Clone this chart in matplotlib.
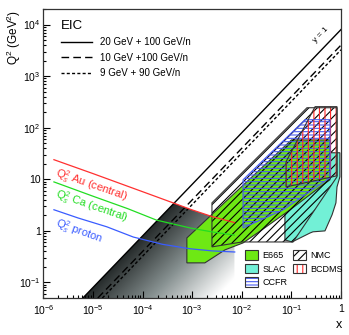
import numpy as np
import matplotlib
matplotlib.use('Agg')
import matplotlib.pyplot as plt
from matplotlib.patches import Polygon, Rectangle
from matplotlib.lines import Line2D
from matplotlib.colors import LinearSegmentedColormap
import matplotlib.ticker as mticker

plt.rcParams['font.family'] = ['Liberation Sans', 'DejaVu Sans']
plt.rcParams['mathtext.fontset'] = 'custom'
plt.rcParams['mathtext.rm'] = 'Liberation Sans'
plt.rcParams['mathtext.it'] = 'Liberation Sans:italic'
plt.rcParams['mathtext.bf'] = 'Liberation Sans:bold'
plt.rcParams['hatch.linewidth'] = 0.8

# ---------------- data ----------------
beam_labels = ['20 GeV + 100 GeV/n', '10 GeV +100 GeV/n', '9 GeV + 90 GeV/n']
beam_s = [8000.0, 4000.0, 3240.0]          # s (GeV^2); y = 1 line: Q2 = s * x
beam_styles = ['-', (0, (5.5, 3.0)), (0, (2.2, 1.6))]

qs_au_x = [1.63e-6, 1e-5, 1e-4, 4.2e-4, 9.1e-4, 2.5e-3, 7.1e-3]
qs_au_q2 = [24.0, 12.9, 5.75, 3.47, 2.63, 1.9, 1.45]
qs_ca_x = [1.63e-6, 1e-5, 5e-5, 1.9e-4, 9.1e-4, 2.6e-3, 7.1e-3]
qs_ca_q2 = [8.9, 4.7, 2.7, 1.62, 1.14, 0.95, 0.83]
qs_p_x = [1.63e-6, 5e-6, 1.9e-5, 6.5e-5, 2.5e-4, 9.1e-4, 2.5e-3, 7.2e-3]
qs_p_q2 = [2.57, 1.78, 1.2, 0.76, 0.55, 0.45, 0.41, 0.39]

e665_x = [7.8e-4, 7.8e-4, 1.8e-3, 4.6e-3, 0.0106, 0.0255, 0.094, 0.43, 0.6, 0.6, 0.1]
e665_q2 = [0.73, 0.24, 0.24, 0.43, 0.585, 1.05, 2.56, 7.8, 9.8, 58, 58]

nmc_x = [2.5e-3, 0.206, 0.83, 0.83, 0.108, 0.0101, 2.5e-3]
nmc_q2 = [3.5, 244, 244, 11.2, 0.61, 0.61, 0.49]

ccfr_x = [0.0106, 0.0106, 0.068, 0.6, 0.6, 0.188]
ccfr_q2 = [9.8, 1.14, 2.56, 10.7, 143, 143]

bcdms_x = [0.078, 0.078, 0.3, 0.83, 0.83]
bcdms_q2 = [7.1, 21.9, 256, 256, 11.7]

slac_x = [0.074, 0.074, 0.103, 0.237, 0.272, 0.475, 0.66, 0.79, 0.83, 0.95, 0.95, 0.6]
slac_q2 = [2.24, 0.67, 0.61, 0.91, 0.96, 1.0, 2.05, 3.5, 7.1, 11.2, 32.7, 32.7]

x_ticks = [1e-6, 1e-5, 1e-4, 1e-3, 1e-2, 1e-1, 1]
x_tick_labels = ['$10^{-6}$', '$10^{-5}$', '$10^{-4}$', '$10^{-3}$', '$10^{-2}$', '$10^{-1}$', '1']
y_ticks = [1e-1, 1, 10, 1e2, 1e3, 1e4]
y_tick_labels = ['$10^{-1}$', '1', '10', '$10^{2}$', '$10^{3}$', '$10^{4}$']

XLIM = (1e-6, 1.0)
YLIM = (0.05, 2e4)

# ---------------- figure ----------------
fig = plt.figure(figsize=(3.49, 3.35), dpi=100)
ax = fig.add_axes([0.1244, 0.1104, 0.8527, 0.8627])
ax.set_xscale('log')
ax.set_yscale('log')
ax.set_xlim(*XLIM)
ax.set_ylim(*YLIM)
ax.set_autoscale_on(False)

# gray gradient region (below y=1 line of highest s and below Au saturation)
lx0, lx1 = np.log10(XLIM)
ly0, ly1 = np.log10(YLIM)
nu, nv = 400, 400
u = np.linspace(0, 1, nu)
v = np.linspace(0, 1, nv)
U, V = np.meshgrid(u, v)
LX = lx0 + (lx1 - lx0) * U
LY = ly0 + (ly1 - ly0) * V
d = LX - (LY - np.log10(beam_s[0]))
t = np.clip(d / 2.7, 0, 1)
cmap = LinearSegmentedColormap.from_list('g', ['#252a2a', '#869090', '#ffffff'])
rgba = cmap(t)
im = ax.imshow(rgba, transform=ax.transAxes, extent=(0, 1, 0, 1), origin='lower',
               aspect='auto', interpolation='bilinear', zorder=1)
gx = np.logspace(np.log10(YLIM[0] / beam_s[0]), np.log10(qs_au_x[-1]), 300)
gy = np.minimum(beam_s[0] * gx,
                10 ** np.interp(np.log10(gx), np.log10(qs_au_x), np.log10(qs_au_q2)))
clip_verts = np.vstack([np.column_stack([gx, gy]),
                        [[qs_au_x[-1], YLIM[0] * 0.5], [gx[0], YLIM[0] * 0.5]]])
clip_poly = Polygon(clip_verts, closed=True, transform=ax.transData, facecolor='none', edgecolor='none')
im.set_clip_path(clip_poly)

# kinematic limit lines
line_handles = []
for s, ls, lab in zip(beam_s, beam_styles, beam_labels):
    xs = np.array([YLIM[0] / s, XLIM[1]])
    ax.plot(xs, s * xs, color='black', lw=1.0, ls=ls, zorder=3)
    line_handles.append(Line2D([], [], color='black', lw=1.0, ls=ls, label=lab))

ax.text(0.40, 6300, 'y = 1', rotation=46, fontsize=6, ha='center', va='center',
        rotation_mode='anchor', zorder=10)

edge = '#333333'
def poly(xs, ys, **kw):
    return Polygon(np.column_stack([xs, ys]), closed=True, **kw)

ax.add_patch(poly(slac_x, slac_q2, facecolor='#72f0d6', edgecolor=edge, lw=0.8, zorder=4))
ax.add_patch(poly(e665_x, e665_q2, facecolor='#6ee814', edgecolor=edge, lw=0.8, zorder=5))
ax.add_patch(poly(nmc_x, nmc_q2, facecolor='none', edgecolor='black', hatch='////', lw=0, zorder=6))
ax.add_patch(poly(nmc_x, nmc_q2, facecolor='none', edgecolor=edge, lw=0.8, zorder=9))
ax.add_patch(poly(ccfr_x, ccfr_q2, facecolor='none', edgecolor='#4a5cf0', hatch='-----', lw=0, zorder=7))
ax.add_patch(poly(ccfr_x, ccfr_q2, facecolor='none', edgecolor='#4a5cf0', lw=0.8, zorder=9))
ax.add_patch(poly(bcdms_x, bcdms_q2, facecolor='none', edgecolor='#ff2a2a', hatch='|||', lw=0, zorder=8))
ax.add_patch(poly(bcdms_x, bcdms_q2, facecolor='none', edgecolor=edge, lw=0.8, zorder=9))

# saturation curves
ax.plot(qs_au_x, qs_au_q2, color='#ff3030', lw=0.9, zorder=10)
ax.plot(qs_ca_x, qs_ca_q2, color='#22dd22', lw=0.9, zorder=10)
ax.plot(qs_p_x, qs_p_q2, color='#3a5cff', lw=0.9, zorder=10)
ax.text(1.71e-6, 11.7, r'Q$_s^2$ Au (central)', color='#ff3030', fontsize=8, rotation=-19,
        rotation_mode='anchor', ha='left', va='baseline', zorder=11)
ax.text(1.71e-6, 4.57, r'Q$_s^2$ Ca (central)', color='#22dd22', fontsize=8, rotation=-19,
        rotation_mode='anchor', ha='left', va='baseline', zorder=11)
ax.text(1.71e-6, 1.25, r'Q$_s^2$ proton', color='#3a5cff', fontsize=8, rotation=-20,
        rotation_mode='anchor', ha='left', va='baseline', zorder=11)

# legends
leg1 = ax.legend(handles=line_handles, loc='upper left', bbox_to_anchor=(0.058, 0.962),
                 frameon=False, fontsize=7, title='EIC', title_fontsize=9.5, alignment='left',
                 handlelength=3.2, handletextpad=0.8, labelspacing=0.55, borderpad=0,
                 borderaxespad=0)
leg1.set_zorder(12)
ax.add_artist(leg1)

def box(fc, hatch=None, hc=None):
    h1 = Rectangle((0, 0), 1, 1, facecolor=fc, edgecolor=hc if hc else 'none', hatch=hatch, lw=0)
    h2 = Rectangle((0, 0), 1, 1, facecolor='none', edgecolor=edge, lw=0.8)
    return (h1, h2)

dh = [box('#6ee814'), box('#72f0d6'), box('white', '-----', '#4a5cf0'),
      box('white', '////', 'black'), box('white', '|||', '#ff2a2a')]
dl = ['E665', 'SLAC', 'CCFR', 'NMC', 'BCDMS']
leg2 = ax.legend(dh, dl, loc='upper left', bbox_to_anchor=(0.677, 0.166), ncol=2,
                 frameon=False, fontsize=6.5, handlelength=1.4, handleheight=1.3,
                 handletextpad=0.55, labelspacing=0.4, columnspacing=0.6, borderpad=0,
                 borderaxespad=0)
leg2.set_zorder(12)

# ticks
ax.xaxis.set_major_locator(mticker.FixedLocator(x_ticks))
ax.xaxis.set_major_formatter(mticker.FixedFormatter(x_tick_labels))
ax.yaxis.set_major_locator(mticker.FixedLocator(y_ticks))
ax.yaxis.set_major_formatter(mticker.FixedFormatter(y_tick_labels))
ax.xaxis.set_minor_locator(mticker.LogLocator(base=10, subs=np.arange(2, 10), numticks=20))
ax.yaxis.set_minor_locator(mticker.LogLocator(base=10, subs=np.arange(2, 10), numticks=20))
ax.xaxis.set_minor_formatter(mticker.NullFormatter())
ax.yaxis.set_minor_formatter(mticker.NullFormatter())
ax.tick_params(which='both', direction='in', top=False, right=False, labelsize=7.5, width=0.8)
ax.tick_params(which='major', length=5)
ax.tick_params(which='minor', length=2.5)
ax.tick_params(axis='x', pad=4)
ax.tick_params(axis='y', pad=2)
for sp in ax.spines.values():
    sp.set_linewidth(0.9)
    sp.set_color('#333333')

fig.text(14 / 349, 1 - 37 / 335, r'Q$^2$ (GeV$^2$)', rotation=90, ha='center', va='center', fontsize=8.5)
fig.text(339 / 349, 1 - 325 / 335, 'x', ha='center', va='center', fontsize=9)

fig.savefig('out.png', dpi=100)
